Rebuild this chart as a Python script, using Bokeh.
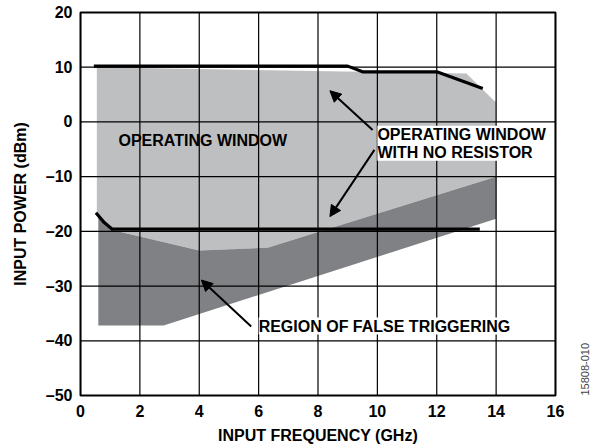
import math
from bokeh.plotting import figure
from bokeh.models import Label, Arrow, NormalHead, FixedTicker, Range1d, LinearAxis
from bokeh.embed import file_html
from bokeh.resources import INLINE

# --- data ---
# Operating window (light gray region) outline, GHz / dBm
win_x = [0.55, 13.0, 13.95, 14.0, 14.0, 6.3, 4.0, 1.1, 0.55]
win_y = [10.0, 8.85, 3.8, 3.8, -10.0, -23.0, -23.5, -19.8, -17.0]

# Region of false triggering (dark gray region) outline
false_x = [0.6, 1.1, 4.0, 6.3, 14.0, 14.0, 2.8, 0.6]
false_y = [-17.5, -19.8, -23.5, -23.0, -10.0, -17.7, -37.2, -37.2]

# Operating window with no resistor: upper and lower boundary lines
upper_x = [0.45, 9.0, 9.5, 12.0, 13.55]
upper_y = [10.2, 10.2, 9.15, 9.15, 6.1]
lower_x = [0.52, 0.8, 1.07, 13.45]
lower_y = [-16.6, -18.4, -19.6, -19.6]

x_ticks = [0, 2, 4, 6, 8, 10, 12, 14, 16]
y_ticks = [-50, -40, -30, -20, -10, 0, 10, 20]
y_tick_labels = {v: (("\u2013" + str(-v)) if v < 0 else str(v)) for v in y_ticks}

X_MIN, X_MAX = 0, 16
Y_MIN, Y_MAX = -50, 20

FONT = "Liberation Sans"

p = figure(width=595, height=448, output_backend="svg", toolbar_location=None,
           x_range=Range1d(X_MIN, X_MAX), y_range=Range1d(Y_MIN, Y_MAX),
           min_border_left=80, min_border_right=35, min_border_top=12,
           min_border_bottom=53)

p.background_fill_color = "white"
p.border_fill_color = "white"
p.outline_line_color = "black"
p.outline_line_width = 2
p.xgrid.visible = False
p.ygrid.visible = False

# fills
p.patch(win_x, win_y, fill_color="#BEBFC1", line_color=None)
p.patch(false_x, false_y, fill_color="#808184", line_color=None)

# grid lines drawn above the fills
p.segment(x0=x_ticks, y0=[Y_MIN] * len(x_ticks), x1=x_ticks, y1=[Y_MAX] * len(x_ticks),
          line_color="black", line_width=1.2)
p.segment(x0=[X_MIN] * len(y_ticks), y0=y_ticks, x1=[X_MAX] * len(y_ticks), y1=y_ticks,
          line_color="black", line_width=1.2)

# boundary lines
p.line(upper_x, upper_y, line_color="black", line_width=3.2, line_join="round")
p.line(lower_x, lower_y, line_color="black", line_width=3.2, line_join="round")

# axes
p.xaxis.ticker = FixedTicker(ticks=x_ticks)
p.yaxis.ticker = FixedTicker(ticks=y_ticks)
p.yaxis.major_label_overrides = y_tick_labels
for ax in (p.xaxis, p.yaxis):
    ax.axis_line_color = None
    ax.major_tick_line_color = None
    ax.minor_tick_line_color = None
    ax.major_tick_out = 0
    ax.major_tick_in = 0
    ax.minor_tick_out = 0
    ax.minor_tick_in = 0
    ax.major_label_text_font = FONT
    ax.major_label_text_font_style = "bold"
    ax.major_label_text_font_size = "16px"
    ax.major_label_text_color = "black"
    ax.axis_label_text_font = FONT
    ax.axis_label_text_font_style = "bold"
    ax.axis_label_text_font_size = "16px"
    ax.axis_label_text_color = "black"
p.xaxis.axis_label = "INPUT FREQUENCY (GHz)"
p.yaxis.axis_label = "INPUT POWER (dBm)"
p.xaxis.major_label_standoff = 9
p.yaxis.major_label_standoff = 8
p.xaxis.axis_label_standoff = 7
p.yaxis.axis_label_standoff = 14

# figure number on the right side
rax = LinearAxis(ticker=FixedTicker(ticks=[]),
                 axis_label="15808-010", axis_line_color=None,
                 major_tick_line_color=None, minor_tick_line_color=None,
                 major_tick_out=0, major_tick_in=0, minor_tick_out=0, minor_tick_in=0,
                 axis_label_text_font=FONT, axis_label_text_font_size="11px",
                 axis_label_text_font_style="normal", axis_label_text_color="#444444",
                 axis_label_standoff=29, axis_label_orientation=math.pi / 2,
                 axis_label_align="start")
p.add_layout(rax, "right")

# arrows
def arrow(x0, y0, x1, y1):
    p.add_layout(Arrow(x_start=x0, y_start=y0, x_end=x1, y_end=y1,
                       line_color="black", line_width=2,
                       end=NormalHead(size=11, fill_color="black", line_color="black")))

arrow(9.84, -1.46, 8.4, 5.7)
arrow(9.9, -5.1, 8.4, -17.3)
arrow(5.75, -37.4, 4.07, -28.9)

# text labels
lab_kw = dict(text_font=FONT, text_font_style="bold", text_font_size="16px",
              text_color="black", text_align="left", text_baseline="middle")
p.add_layout(Label(x=1.28, y=-3.35, text="OPERATING WINDOW", **lab_kw))
p.add_layout(Label(x=10.0, y=-3.9, text="OPERATING WINDOW\nWITH NO RESISTOR",
                   background_fill_color="white", text_line_height=1.05, **lab_kw))
p.add_layout(Label(x=6.0, y=-37.3, text="REGION OF FALSE TRIGGERING",
                   background_fill_color="white", **lab_kw))

open("out.html", "w").write(file_html(p, INLINE))
